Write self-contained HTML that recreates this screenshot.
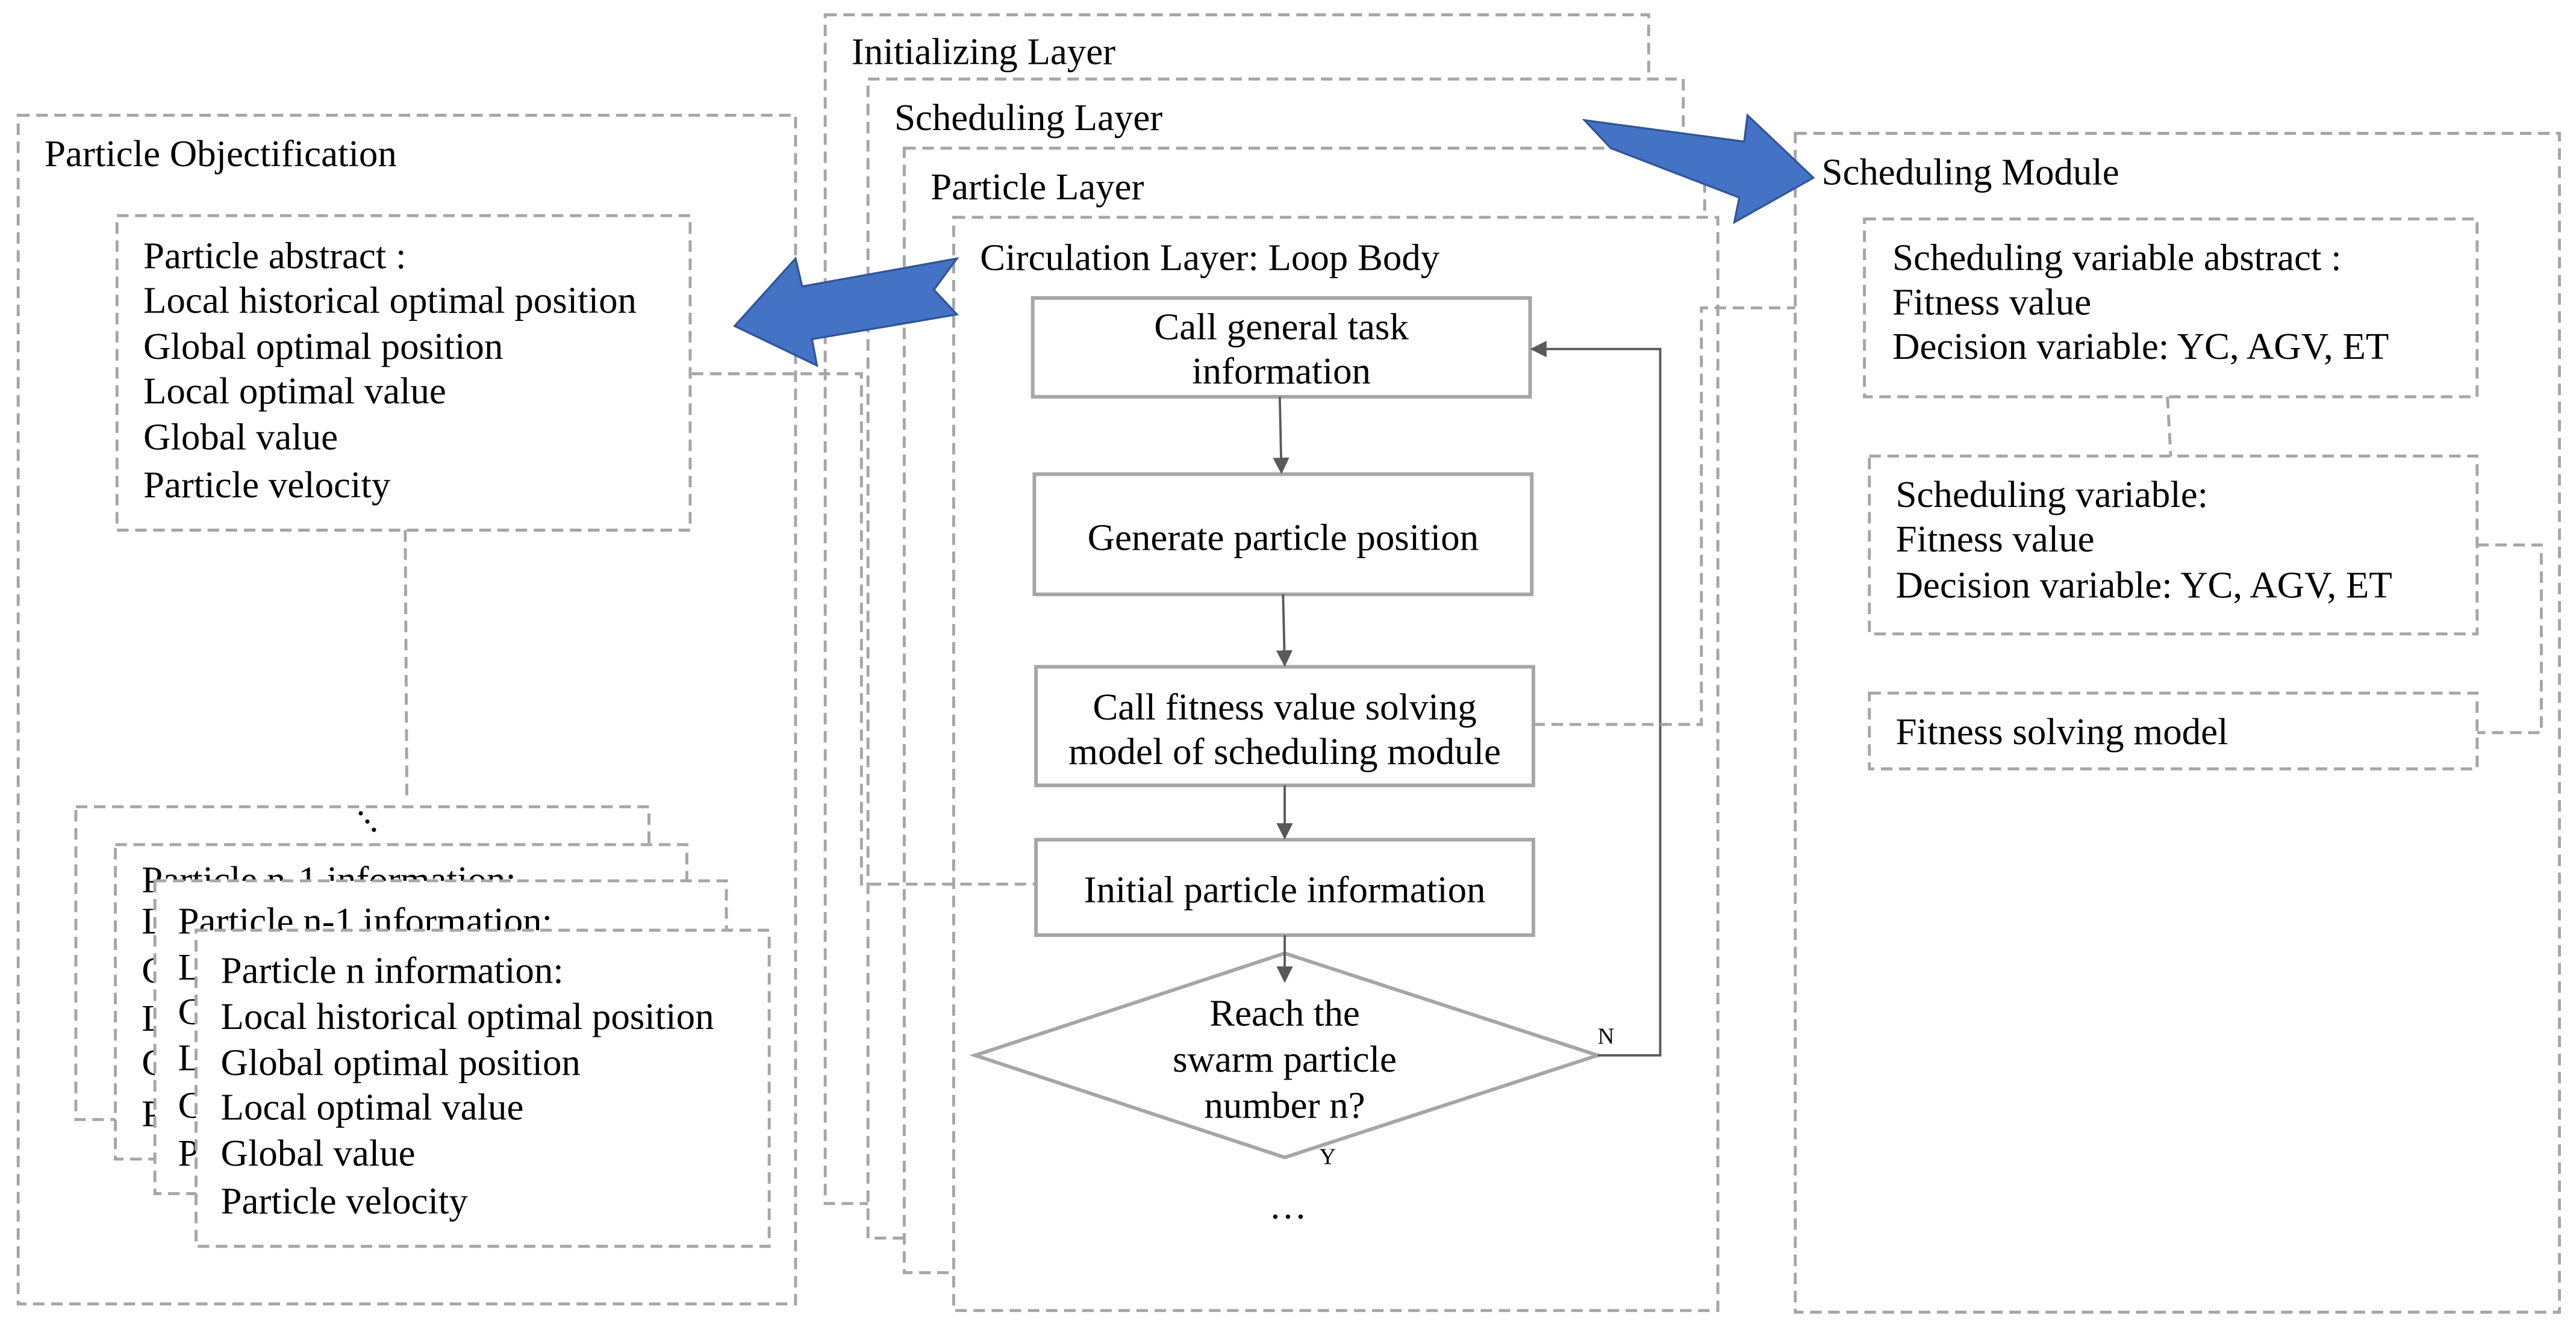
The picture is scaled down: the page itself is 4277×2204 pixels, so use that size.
<!DOCTYPE html>
<html><head><meta charset="utf-8"><style>
html,body{margin:0;padding:0;background:#fff;}
svg{display:block;}
text{font-family:"Liberation Serif","Times New Roman",serif;font-size:23px;fill:#000;}
.d{fill:#fff;stroke:#A6A6A6;stroke-width:1.8;stroke-dasharray:7 4;}
.dl{fill:none;stroke:#A6A6A6;stroke-width:1.8;stroke-dasharray:7 4;}
.s{fill:#fff;stroke:#A6A6A6;stroke-width:2.2;}
.a{fill:none;stroke:#595959;stroke-width:1.4;}
.m{text-anchor:middle;}
</style></head><body>
<svg width="4277" height="2204" viewBox="0 0 1564 806" xmlns="http://www.w3.org/2000/svg">
<defs><marker id="ah" markerWidth="10" markerHeight="10" refX="9" refY="5" orient="auto" markerUnits="userSpaceOnUse"><path d="M0,0 L10,5 L0,10 z" fill="#595959"/></marker></defs>

<rect class="d" x="11" y="70" width="472" height="722"/>
<text x="27" y="101">Particle Objectification</text>
<rect class="d" x="71" y="131" width="348" height="191"/>
<text x="87" y="163">Particle abstract :</text>
<text x="87" y="190">Local historical optimal position</text>
<text x="87" y="218">Global optimal position</text>
<text x="87" y="245">Local optimal value</text>
<text x="87" y="273">Global value</text>
<text x="87" y="302">Particle velocity</text>
<path class="dl" d="M246,322 L247,485"/>

<rect class="d" x="46" y="490" width="348" height="190"/>
<circle cx="219" cy="494" r="1.3" fill="#000"/><circle cx="223" cy="499" r="1.3" fill="#000"/><circle cx="227" cy="504" r="1.3" fill="#000"/>
<rect class="d" x="70" y="513" width="347" height="191"/>
<text x="86" y="542">Particle  n-1 information:</text>
<text x="86" y="567">L</text><text x="86" y="597">G</text><text x="86" y="626">L</text><text x="86" y="653">G</text><text x="86" y="684">P</text>
<rect class="d" x="94" y="535" width="347" height="190"/>
<text x="108" y="567">Particle  n-1 information:</text>
<text x="108" y="595">L</text><text x="108" y="622">G</text><text x="108" y="650">L</text><text x="108" y="679">G</text><text x="108" y="708">P</text>
<rect class="d" x="119" y="565" width="348" height="192"/>
<text x="134" y="597">Particle  n information:</text>
<text x="134" y="625">Local historical optimal position</text>
<text x="134" y="653">Global optimal position</text>
<text x="134" y="680">Local optimal value</text>
<text x="134" y="708">Global value</text>
<text x="134" y="737">Particle velocity</text>

<rect class="d" x="501" y="9" width="500" height="722"/>
<text x="517" y="39">Initializing Layer</text>
<rect class="d" x="527" y="48" width="495" height="704"/>
<text x="543" y="79">Scheduling Layer</text>
<rect class="d" x="549" y="90" width="486" height="683"/>
<text x="565" y="121">Particle Layer</text>
<rect class="d" x="579" y="132" width="464" height="664"/>
<text x="595" y="164">Circulation Layer: Loop Body</text>

<path class="dl" d="M420,227 L523,227 L523,537 L629,537"/>

<rect class="s" x="627" y="181" width="302" height="60"/>
<text class="m" x="778" y="206">Call general task</text>
<text class="m" x="778" y="233">information</text>
<rect class="s" x="628" y="288" width="302" height="73"/>
<text class="m" x="779" y="334">Generate particle position</text>
<rect class="s" x="629" y="405" width="302" height="72"/>
<text class="m" x="780" y="437">Call fitness value solving</text>
<text class="m" x="780" y="464">model of scheduling module</text>
<rect class="s" x="629" y="510" width="302" height="58"/>
<text class="m" x="780" y="548">Initial particle information</text>
<polygon class="s" points="592,641 780,579 970,641 780,703"/>
<text class="m" x="780" y="623">Reach the</text>
<text class="m" x="780" y="651">swarm particle</text>
<text class="m" x="780" y="679">number n?</text>

<path class="a" d="M777,241 L778,287" marker-end="url(#ah)"/>
<path class="a" d="M779,361 L780,404" marker-end="url(#ah)"/>
<path class="a" d="M780,477 L780,509" marker-end="url(#ah)"/>
<path class="a" d="M780,568 L780,596" marker-end="url(#ah)"/>
<path class="a" d="M970,641 L1008,641 L1008,212 L930,212" marker-end="url(#ah)"/>
<text x="970" y="634" style="font-size:14px">N</text>
<text x="801" y="707" style="font-size:14px">Y</text>
<text class="m" x="782" y="740">…</text>

<path class="dl" d="M931,440 L1033,440 L1033,187 L1131,187"/>

<rect class="d" x="1090" y="81" width="464" height="716"/>
<text x="1106" y="112">Scheduling Module</text>
<rect class="d" x="1132" y="133" width="372" height="108"/>
<text x="1149" y="164">Scheduling variable abstract :</text>
<text x="1149" y="191">Fitness value</text>
<text x="1149" y="218">Decision variable: YC, AGV, ET</text>
<path class="dl" d="M1316,241 L1318,277"/>
<rect class="d" x="1135" y="277" width="369" height="108"/>
<text x="1151" y="308">Scheduling variable:</text>
<text x="1151" y="335">Fitness value</text>
<text x="1151" y="363">Decision variable: YC, AGV, ET</text>
<rect class="d" x="1135" y="421" width="369" height="46"/>
<text x="1151" y="452">Fitness solving model</text>
<path class="dl" d="M1504,331 L1543,331 L1543,445 L1504,445"/>

<polygon points="581,157 487,174 483,157 446,198 496,222 493,206 581,191 567,176" fill="#4472C4" stroke="#2F5597" stroke-width="1.2"/>
<polygon points="962,73 1059,86 1061,70 1101,108 1053,135 1056,120 978,90" fill="#4472C4" stroke="#2F5597" stroke-width="1.2"/>
</svg>
</body></html>
